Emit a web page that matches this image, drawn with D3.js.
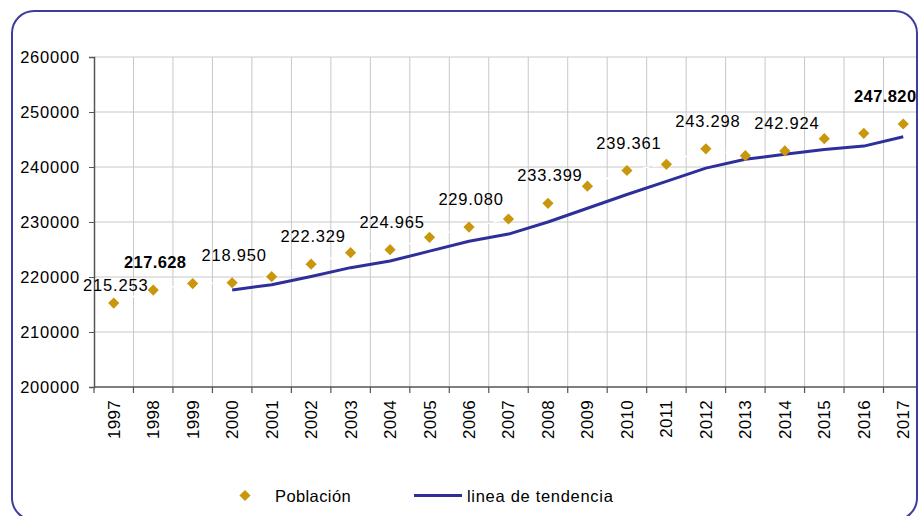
<!DOCTYPE html>
<html>
<head>
<meta charset="utf-8">
<script src="https://cdn.jsdelivr.net/npm/d3@7/dist/d3.min.js"></script>
<style>
  html, body { margin: 0; padding: 0; background: #fff; }
  svg { display: block; font-family: "Liberation Sans", Arial, sans-serif; }
</style>
</head>
<body>
<svg id="chart" width="919" height="516"></svg>
<script>
// ---- data ----
const years = ["1997","1998","1999","2000","2001","2002","2003","2004","2005","2006","2007",
               "2008","2009","2010","2011","2012","2013","2014","2015","2016","2017"];
const poblacion = [215253, 217628, 218800, 218950, 220055, 222329, 224420, 224965, 227220, 229080, 230545,
                   233399, 236520, 239361, 240490, 243298, 242055, 242924, 245145, 246127, 247820];
const trendYears = ["2000","2001","2002","2003","2004","2005","2006","2007","2008","2009",
                    "2010","2011","2012","2013","2014","2015","2016","2017"];
const tendencia = [217650, 218600, 220100, 221700, 222900, 224700, 226500, 227800, 230000, 232500,
                   235000, 237400, 239800, 241400, 242300, 243200, 243800, 245500];
const labeledYears = ["1997","1998","2000","2002","2004","2006","2008","2010","2012","2014","2017"];
const boldYears = ["1998","2017"];
const yTicks = [200000, 210000, 220000, 230000, 240000, 250000, 260000];
const legendLabels = ["Población", "linea de tendencia"];

// ---- layout ----
const svg = d3.select("#chart");
const plot = { left: 94, right: 923, top: 57, bottom: 387 };
const gold = "#c9970c";
const navy = "#2f2f9c";
const borderColor = "#3d3d9e";

const x = d3.scaleBand().domain(years).range([plot.left, plot.right]).padding(0);
const y = d3.scaleLinear().domain([200000, 260000]).range([plot.bottom, plot.top]);
const cx = yr => x(yr) + x.bandwidth() / 2;

const es = d3.formatLocale({ decimal: ",", thousands: ".", grouping: [3], currency: ["", " €"] });
const fmtLabel = es.format(",d");

// clip to the rounded frame
const frame = { x: 12, y: 11, w: 905, h: 509, r: 22 };
svg.append("defs").append("clipPath").attr("id", "frameClip")
  .append("rect").attr("x", frame.x).attr("y", frame.y)
  .attr("width", frame.w).attr("height", frame.h).attr("rx", frame.r).attr("ry", frame.r);

const g = svg.append("g").attr("clip-path", "url(#frameClip)");

// gridlines
g.append("g").selectAll("line").data(yTicks.filter(d => d > 200000)).join("line")
  .attr("x1", plot.left).attr("x2", plot.right)
  .attr("y1", d => y(d)).attr("y2", d => y(d))
  .attr("stroke", "#c8c8c8").attr("stroke-width", 1);
g.append("g").selectAll("line").data(years.slice(1).concat(["end"])).join("line")
  .attr("x1", d => d === "end" ? plot.right : x(d))
  .attr("x2", d => d === "end" ? plot.right : x(d))
  .attr("y1", plot.top).attr("y2", plot.bottom)
  .attr("stroke", "#c8c8c8").attr("stroke-width", 1);

// y axis
const yAxis = d3.axisLeft(y).tickValues(yTicks).tickFormat(d3.format("d")).tickSize(5).tickPadding(9);
const ya = g.append("g").attr("transform", `translate(${plot.left},0)`).call(yAxis);
ya.select(".domain").attr("stroke", "#555").attr("stroke-width", 1.5);
ya.selectAll(".tick line").attr("stroke", "#555").attr("stroke-width", 1.2);
ya.selectAll(".tick text").attr("fill", "#000").style("font-size", "16.5px")
  .style("letter-spacing", "0.8px").attr("font-family", null);

// x axis (ticks at category boundaries)
const xa = g.append("g").attr("transform", `translate(0,${plot.bottom})`);
xa.append("line").attr("x1", plot.left).attr("x2", plot.right).attr("y1", 0).attr("y2", 0)
  .attr("stroke", "#555").attr("stroke-width", 1.5);
xa.selectAll("line.tk").data(years.concat(["end"])).join("line").attr("class", "tk")
  .attr("x1", d => d === "end" ? plot.right : x(d))
  .attr("x2", d => d === "end" ? plot.right : x(d))
  .attr("y1", 0).attr("y2", 6).attr("stroke", "#555").attr("stroke-width", 1.2);
xa.selectAll("text").data(years).join("text")
  .attr("transform", d => `translate(${cx(d)},13) rotate(-90)`)
  .attr("text-anchor", "end").attr("dy", "0.35em")
  .style("font-size", "17px").style("letter-spacing", "0.3px")
  .attr("fill", "#000").text(d => d);

// white connecting line of the Población series
const popPts = years.map((yr, i) => [cx(yr), y(poblacion[i])]);
g.append("path").attr("d", d3.line()(popPts))
  .attr("fill", "none").attr("stroke", "#fff").attr("stroke-width", 1.5)
  .attr("stroke-dasharray", "6,4");

// trend line
g.append("path")
  .attr("d", d3.line().x((d, i) => cx(trendYears[i])).y(d => y(d))(tendencia))
  .attr("fill", "none").attr("stroke", navy).attr("stroke-width", 3)
  .attr("stroke-linejoin", "round");

// diamonds
const diamond = s => `M0,${-s}L${s},0L0,${s}L${-s},0Z`;
g.append("g").selectAll("path").data(years).join("path")
  .attr("transform", (d, i) => `translate(${cx(d)},${y(poblacion[i])})`)
  .attr("d", diamond(5.6)).attr("fill", gold);

// data labels
const labelG = g.append("g");
labeledYears.forEach(yr => {
  const i = years.indexOf(yr);
  const bold = boldYears.includes(yr);
  let lx = cx(yr) + 2;
  let ly = y(poblacion[i]) - 22;
  if (i === 0) ly += 10; // first label sits lower, as in the source
  const t = labelG.append("text")
    .attr("x", lx).attr("y", ly).attr("text-anchor", "middle")
    .style("font-size", "16.5px").style("letter-spacing", bold ? "0.4px" : "0.8px")
    .style("font-weight", bold ? "bold" : "normal")
    .attr("fill", "#000").text(fmtLabel(poblacion[i]));
  const bb = t.node().getBBox();
  const maxRight = frame.x + frame.w - 0.5;
  if (bb.x + bb.width > maxRight) t.attr("x", lx - (bb.x + bb.width - maxRight));
});

// legend
const leg = svg.append("g");
leg.append("path").attr("transform", "translate(245,495.5)").attr("d", diamond(5.6)).attr("fill", gold);
leg.append("text").attr("x", 275).attr("y", 501.5).style("font-size", "16.5px")
  .style("letter-spacing", "0.4px").attr("fill", "#000").text(legendLabels[0]);
leg.append("line").attr("x1", 414).attr("x2", 462).attr("y1", 495.5).attr("y2", 495.5)
  .attr("stroke", navy).attr("stroke-width", 3);
leg.append("text").attr("x", 467).attr("y", 501.5).style("font-size", "16.5px")
  .style("letter-spacing", "0.7px").attr("fill", "#000").text(legendLabels[1]);

// frame
svg.append("rect").attr("x", frame.x).attr("y", frame.y).attr("width", frame.w).attr("height", frame.h)
  .attr("rx", frame.r).attr("ry", frame.r)
  .attr("fill", "none").attr("stroke", borderColor).attr("stroke-width", 2);
</script>
</body>
</html>
